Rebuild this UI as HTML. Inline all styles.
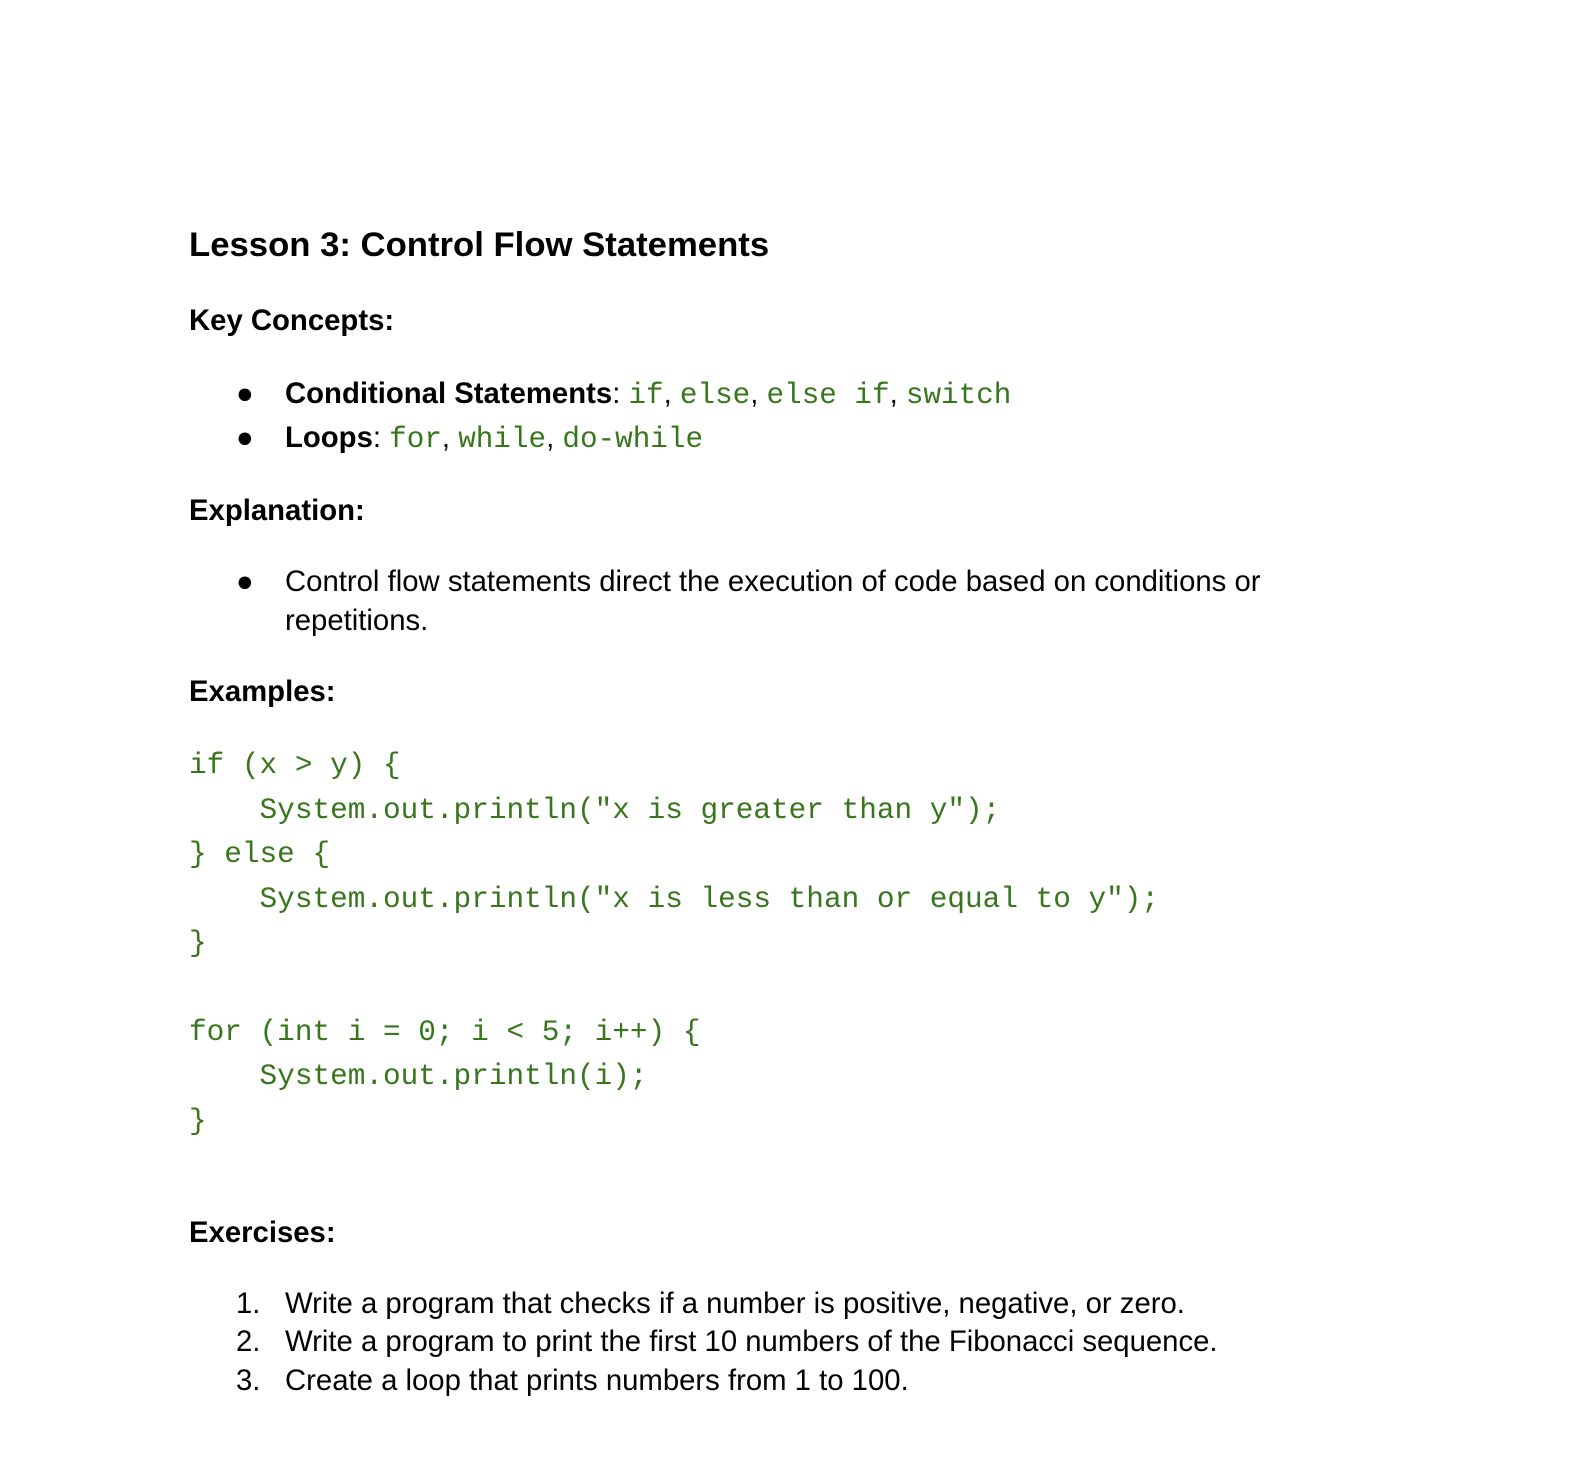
<!DOCTYPE html>
<html><head><meta charset="utf-8"><style>
body{margin:0;background:#fff;width:1572px;height:1480px;position:relative;font-family:"Liberation Sans",Arial,sans-serif;color:#000}
.a{position:absolute;white-space:pre;line-height:1}
.b{font-weight:bold}
.t{font-size:29.3px}
.c{font-family:"Liberation Mono",monospace;color:#38761d;font-size:29.3px}
.code{font-family:"Liberation Mono",monospace;color:#38761d;font-size:29.4px}
</style></head><body>
<div class="a b" style="left:189px;top:228px;font-size:34.7px">Lesson 3: Control Flow Statements</div>
<div class="a b t" style="left:189px;top:306px">Key Concepts:</div>
<div class="a t" style="left:236px;top:379px">●</div>
<div class="a t" style="left:285px;top:379px"><b>Conditional Statements</b>: <span class="c">if</span>, <span class="c">else</span>, <span class="c">else if</span>, <span class="c">switch</span></div>
<div class="a t" style="left:236px;top:423px">●</div>
<div class="a t" style="left:285px;top:423px"><b>Loops</b>: <span class="c">for</span>, <span class="c">while</span>, <span class="c">do-while</span></div>
<div class="a b t" style="left:189px;top:496px">Explanation:</div>
<div class="a t" style="left:236px;top:567px">●</div>
<div class="a t" style="left:285px;top:567px">Control flow statements direct the execution of code based on conditions or</div>
<div class="a t" style="left:285px;top:606px">repetitions.</div>
<div class="a b t" style="left:189px;top:677px">Examples:</div>
<div class="a code" style="left:189px;top:751px">if (x &gt; y) {</div>
<div class="a code" style="left:189px;top:796px">    System.out.println("x is greater than y");</div>
<div class="a code" style="left:189px;top:840px">} else {</div>
<div class="a code" style="left:189px;top:885px">    System.out.println("x is less than or equal to y");</div>
<div class="a code" style="left:189px;top:929px">}</div>
<div class="a code" style="left:189px;top:1018px">for (int i = 0; i &lt; 5; i++) {</div>
<div class="a code" style="left:189px;top:1062px">    System.out.println(i);</div>
<div class="a code" style="left:189px;top:1107px">}</div>
<div class="a b t" style="left:189px;top:1218px">Exercises:</div>
<div class="a t" style="left:236px;top:1289px">1.</div>
<div class="a t" style="left:285px;top:1289px">Write a program that checks if a number is positive, negative, or zero.</div>
<div class="a t" style="left:236px;top:1327px">2.</div>
<div class="a t" style="left:285px;top:1327px">Write a program to print the first 10 numbers of the Fibonacci sequence.</div>
<div class="a t" style="left:236px;top:1366px">3.</div>
<div class="a t" style="left:285px;top:1366px">Create a loop that prints numbers from 1 to 100.</div>
</body></html>
